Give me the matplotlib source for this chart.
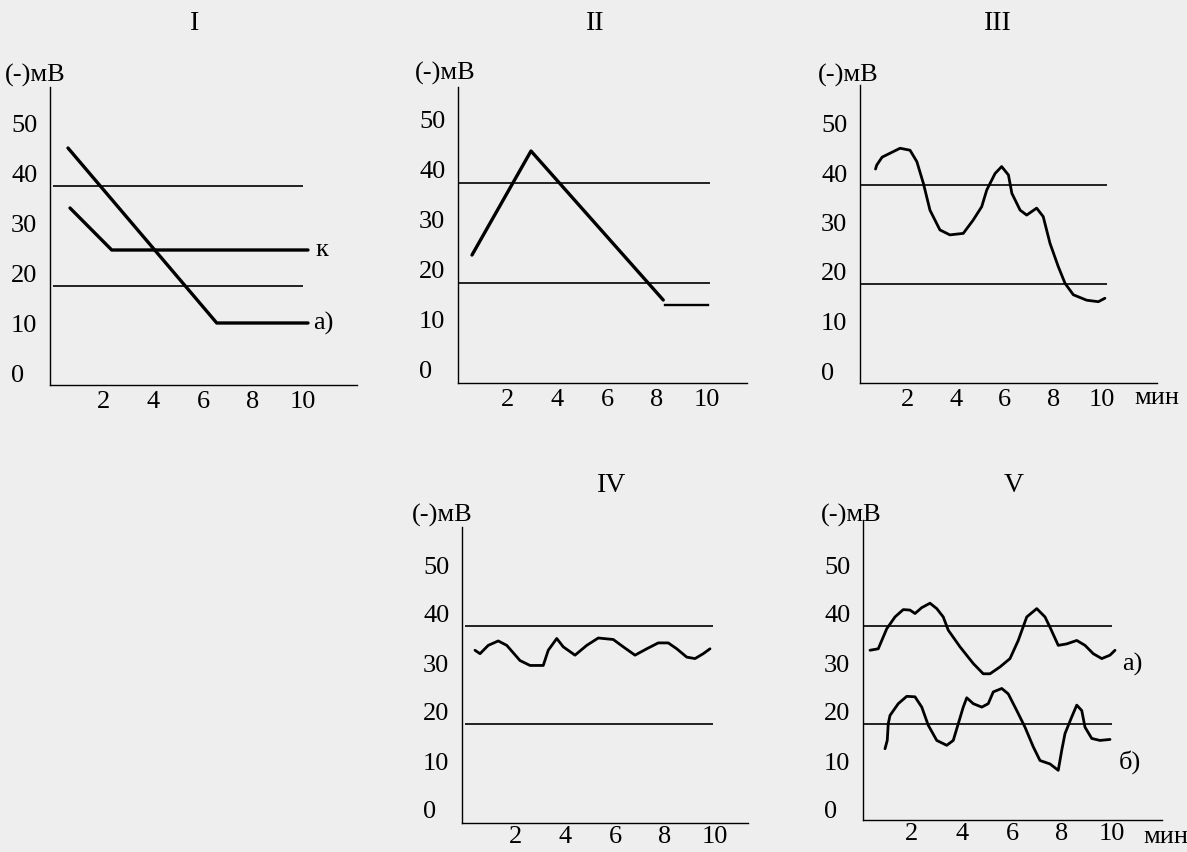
import matplotlib
matplotlib.use('Agg')
import matplotlib.pyplot as plt

plt.rcParams['font.family'] = ['Liberation Serif', 'DejaVu Serif']

W, H = 1187, 852
BG = '#eeeeee'
FS = 19

# пороговые уровни
upper_level = 37.5
lower_level = 17.5

y_ticks = [0, 10, 20, 30, 40, 50]
x_ticks = [2, 4, 6, 8, 10]

# I
i_a_t = [0.6, 6.55, 10.2]
i_a_v = [45, 10, 10]
i_k_t = [0.68, 2.35, 10.2]
i_k_v = [33, 24.6, 24.6]

# II
ii_t = [0.6, 2.96, 8.25]
ii_v = [23, 43.8, 14]
ii_tail_t = [8.3, 10.05]
ii_tail_v = [13, 13]

# III
iii_t = [0.68, 0.73, 0.95, 1.69, 2.1, 2.38, 2.65, 2.92, 3.33, 3.74, 4.29, 4.70, 5.05,
         5.26, 5.6, 5.87, 6.15, 6.29, 6.63, 6.9, 7.31, 7.58, 7.86, 8.2, 8.48,
         8.82, 9.37, 9.85, 10.12]
iii_v = [40.8, 41.6, 43.2, 45, 44.6, 42.3, 37.9, 32.5, 28.5, 27.5, 27.8, 30.5, 33.2,
         36.6, 39.9, 41.3, 39.6, 35.9, 32.5, 31.5, 32.9, 31.2, 25.8, 21.1, 17.7,
         15.4, 14.3, 14.0, 14.7]

# IV
iv_t = [0.4, 0.6, 0.93, 1.33, 1.67, 2.2, 2.6, 3.13, 3.33, 3.67, 3.93, 4.4, 4.87,
        5.33, 5.93, 6.33, 6.8, 7.27, 7.73, 8.13, 8.47, 8.87, 9.2, 9.53, 9.8]
iv_v = [32.6, 31.9, 33.6, 34.5, 33.6, 30.5, 29.5, 29.5, 32.6, 35.0, 33.3, 31.6, 33.6,
        35.1, 34.8, 33.3, 31.6, 32.9, 34.1, 34.1, 32.9, 31.2, 30.9, 31.9, 32.9]

# V а)
va_t = [0.32, 0.65, 0.99, 1.32, 1.65, 1.92, 2.12, 2.39, 2.72, 2.99, 3.25, 3.45, 3.92,
        4.45, 4.85, 5.12, 5.52, 5.92, 6.25, 6.59, 6.99, 7.32, 7.52, 7.85, 8.19,
        8.59, 8.92, 9.25, 9.59, 9.92, 10.12]
va_v = [32.6, 32.9, 37, 39.4, 40.9, 40.8, 40.1, 41.3, 42.2, 41.1, 39.4, 36.7, 33.3,
        29.9, 27.8, 27.8, 29.2, 30.9, 34.6, 39.4, 41.1, 39.4, 37.3, 33.6, 33.9,
        34.6, 33.6, 31.9, 30.9, 31.6, 32.6]

# V б)
vb_t = [0.92, 1.01, 1.05, 1.12, 1.45, 1.79, 2.12, 2.39, 2.65, 2.99, 3.39, 3.65, 3.85,
        4.05, 4.19, 4.45, 4.79, 5.05, 5.25, 5.59, 5.85, 6.19, 6.52, 6.85, 7.12,
        7.52, 7.85, 7.99, 8.12, 8.39, 8.59, 8.79, 8.92, 9.19, 9.52, 9.92]
vb_v = [12.5, 14.2, 17.6, 19.3, 21.7, 23.2, 23.1, 21, 17.3, 14.2, 13.2, 14.2, 17.6,
        21, 22.9, 21.7, 21, 21.7, 24.1, 24.8, 23.7, 20.3, 16.9, 12.9, 10.1,
        9.4, 8.1, 12.2, 15.6, 19, 21.4, 20.3, 16.9, 14.6, 14.2, 14.4]

fig = plt.figure(figsize=(W / 100, H / 100), dpi=100, facecolor=BG)


def make_axes(l, b, r, t, x0, xs, y0, ys, xpad=4):
    # l, b, r, t - рамка в пикселях; x0/y0 - пиксель нуля, xs/ys - пикселей на единицу
    ax = fig.add_axes([l / W, 1 - b / H, (r - l) / W, (b - t) / H])
    ax.set_xlim((l - x0) / xs, (r - x0) / xs)
    ax.set_ylim((y0 - b) / ys, (y0 - t) / ys)
    ax.set_facecolor('none')
    for s in ['top', 'right']:
        ax.spines[s].set_visible(False)
    for s in ['left', 'bottom']:
        ax.spines[s].set_linewidth(1.0)
    ax.set_xticks(x_ticks)
    ax.set_yticks(y_ticks)
    ax.tick_params(length=0, labelsize=FS)
    ax.tick_params(axis='y', pad=28)
    ax.tick_params(axis='x', pad=xpad)
    for lab in ax.get_yticklabels():
        lab.set_horizontalalignment('left')
    return ax


def levels(ax, x_end):
    ax.hlines([upper_level, lower_level], 0, x_end, color='black', lw=1.2)


def ftext(x, y, s, size=FS):
    fig.text(x / W, 1 - y / H, s, fontsize=size, ha='center', va='center')


curve_kw = dict(color='black', lw=2.4, solid_joinstyle='round', solid_capstyle='round')
wave_kw = dict(color='black', lw=2.0, solid_joinstyle='round', solid_capstyle='round')

# I
ax1 = make_axes(50, 385, 357, 87, 53, 25, 373, 5)
levels(ax1, 10)
ax1.plot(i_a_t, i_a_v, **curve_kw)
ax1.plot(i_k_t, i_k_v, **curve_kw)
ax1.text(10.76, i_k_v[-1], 'к', fontsize=FS, ha='center', va='center')
ax1.text(10.8, i_a_v[-1], 'а)', fontsize=FS, ha='center', va='center')

# II
ax2 = make_axes(458, 383, 747, 87, 457, 25, 370, 5)
levels(ax2, 10.1)
ax2.plot(ii_t, ii_v, **curve_kw)
ax2.plot(ii_tail_t, ii_tail_v, color='black', lw=1.7)

# III
ax3 = make_axes(860, 383, 1157, 85, 859, 24.3, 371, 4.95)
levels(ax3, 10.2)
ax3.plot(iii_t, iii_v, **wave_kw)

# IV
ax4 = make_axes(462, 823, 748, 527, 465, 25, 810, 4.9, xpad=2)
levels(ax4, 9.9)
ax4.plot(iv_t, iv_v, **wave_kw)

# V
ax5 = make_axes(863, 820, 1162, 520, 862, 25, 810, 4.9, xpad=2)
levels(ax5, 10)
ax5.plot(va_t, va_v, **wave_kw)
ax5.plot(vb_t, vb_v, **wave_kw)
ax5.text(10.8, 29.8, 'а)', fontsize=FS, ha='center', va='center')
ax5.text(10.7, 9.8, 'б)', fontsize=FS, ha='center', va='center')

# заголовки и подписи осей
ftext(195, 23, 'I', 20)
ftext(595, 23, 'II', 20)
ftext(998, 23, 'III', 20)
ftext(612, 486, 'IV', 20)
ftext(1014, 486, 'V', 20)

ftext(35, 75, '(-)мВ')
ftext(445, 73, '(-)мВ')
ftext(848, 75, '(-)мВ')
ftext(442, 515, '(-)мВ')
ftext(851, 515, '(-)мВ')

ftext(1157, 398, 'мин')
ftext(1166, 837, 'мин')

fig.savefig('out.png', dpi=100, facecolor=BG)
